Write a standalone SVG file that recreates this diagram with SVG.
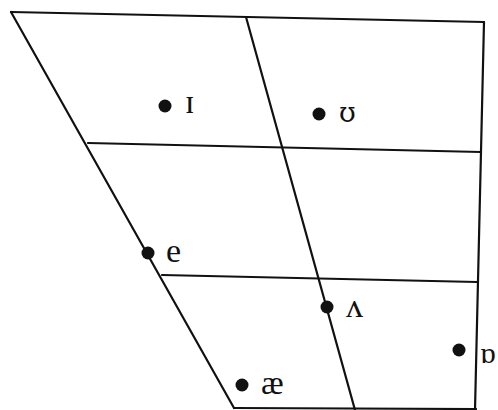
<svg xmlns="http://www.w3.org/2000/svg" width="498" height="410" viewBox="0 0 498 410">
<style>
.ln{stroke:#111;stroke-width:2.2;fill:none;stroke-linecap:round}
.dot{fill:#111}
.lb{font-family:"Liberation Serif","DejaVu Serif",serif;font-size:34px;fill:#111}
.lb2{font-family:"DejaVu Serif",serif;font-size:27px;fill:#111}
</style>
<rect width="498" height="410" fill="#fff"/>
<g id="connectors">
<line class="ln" x1="11" y1="12" x2="484" y2="22"/>
<line class="ln" x1="11" y1="12" x2="234" y2="408"/>
<line class="ln" x1="246" y1="17" x2="355" y2="410"/>
<line class="ln" x1="484" y1="22" x2="475" y2="410"/>
<line class="ln" x1="88" y1="143" x2="481" y2="152"/>
<line class="ln" x1="162" y1="275" x2="477" y2="282"/>
<line class="ln" x1="234" y1="408" x2="476" y2="409"/>
</g>
<g id="v-i"><circle class="dot" cx="165" cy="106" r="6.5"/><text class="lb" x="185" y="113">ɪ</text></g>
<g id="v-u"><circle class="dot" cx="319" cy="114" r="6.5"/><text class="lb2" x="339" y="122">ʊ</text></g>
<g id="v-e"><circle class="dot" cx="148" cy="253" r="6.5"/><text class="lb" x="166" y="262">e</text></g>
<g id="v-v"><circle class="dot" cx="327" cy="307" r="6.5"/><text class="lb" x="346" y="317">ʌ</text></g>
<g id="v-o"><circle class="dot" cx="459" cy="350" r="6.5"/><text class="lb" x="480" y="363" style="font-size:30px">ɒ</text></g>
<g id="v-ae"><circle class="dot" cx="242" cy="385" r="6.5"/><text class="lb" x="261" y="394">æ</text></g>
</svg>
